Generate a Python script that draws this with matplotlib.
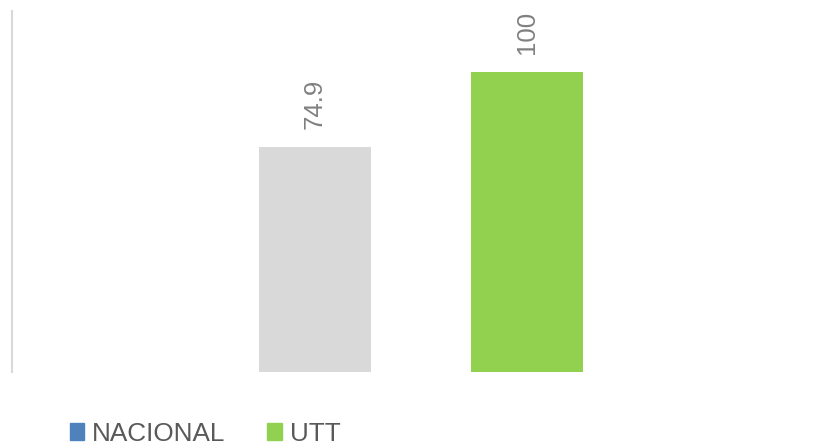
import matplotlib.pyplot as plt
from matplotlib.patches import Patch

series = ["NACIONAL", "UTT"]
values = [74.9, 100]
labels = ["74.9", "100"]
bar_colors = ["#d9d9d9", "#92d050"]
legend_colors = ["#4f81bd", "#92d050"]

plt.rcParams['font.family'] = ['Liberation Sans', 'DejaVu Sans']

fig = plt.figure(figsize=(8.14, 4.46), dpi=100)
ax = fig.add_axes([12 / 814, 74 / 446, 1 - 12 / 814, 361 / 446])

x = list(range(len(values)))
bars = ax.bar(x, values, width=112 / 212, color=bar_colors)
for rect, lab in zip(bars, labels):
    ax.annotate(lab, (rect.get_x() + rect.get_width() / 2, rect.get_height()),
                xytext=(0, 13), textcoords='offset points', rotation=90,
                ha='center', va='bottom', fontsize=18.5, color='#808080')

ax.set_ylim(0, 120.3)
ax.set_xlim(-303 / 212, 1 + 287 / 212)
for side in ['top', 'right', 'bottom']:
    ax.spines[side].set_visible(False)
ax.spines['left'].set_color('#d9d9d9')
ax.spines['left'].set_linewidth(1.5)
ax.set_xticks([])
ax.set_yticks([])

handles = [Patch(color=c, label=s) for c, s in zip(legend_colors, series)]
fig.legend(handles=handles, loc='lower left', bbox_to_anchor=(46 / 814, -0.052),
           ncol=2, frameon=False, fontsize=18.8, handlelength=0.57, handleheight=0.57,
           handletextpad=0.3, columnspacing=1.6, labelcolor='#595959')

fig.savefig('out.png', dpi=100)
